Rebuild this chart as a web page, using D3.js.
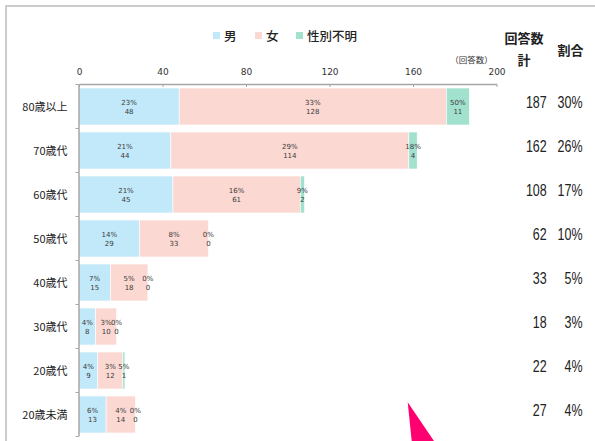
<!DOCTYPE html>
<html>
<head>
<meta charset="utf-8">
<script src="https://d3js.org/d3.v7.min.js"></script>
<style>
  body { margin: 0; background: #fff; }
  svg { display: block; }
  .jp { font-family: "Noto Sans CJK JP", sans-serif; }
</style>
</head>
<body>
<svg id="chart" width="595" height="441"></svg>
<script>
// age groups, top to bottom
const categories = ["80歳以上", "70歳代", "60歳代", "50歳代", "40歳代", "30歳代", "20歳代", "20歳未満"];
const series = ["男", "女", "性別不明"];
const maleCounts    = [48, 44, 45, 29, 15, 8, 9, 13];
const femaleCounts  = [128, 114, 61, 33, 18, 10, 12, 14];
const unknownCounts = [11, 4, 2, 0, 0, 0, 1, 0];
const malePct    = ["23%", "21%", "21%", "14%", "7%", "4%", "4%", "6%"];
const femalePct  = ["33%", "29%", "16%", "8%", "5%", "3%", "3%", "4%"];
const unknownPct = ["50%", "18%", "9%", "0%", "0%", "0%", "5%", "0%"];
const totals = [187, 162, 108, 62, 33, 18, 22, 27];
const shares = ["30%", "26%", "17%", "10%", "5%", "3%", "4%", "4%"];
const xTicks = [0, 40, 80, 120, 160, 200];
const colors = ["#c2e9f9", "#fbd8d2", "#a2e1ce"];

const svg = d3.select("#chart");

// outer frame (runs off the right and bottom)
svg.append("path")
  .attr("d", "M6,441 V6 H595")
  .attr("fill", "none")
  .attr("stroke", "#cbcbcb")
  .attr("stroke-width", 2);

const x = d3.scaleLinear().domain([0, 200]).range([79, 496.5]);
const y = d3.scaleBand().domain(categories).range([84, 436]).paddingInner(0.16).paddingOuter(0.08);
const yEdge = d3.scaleLinear().domain([0, categories.length]).range([84, 436]);

// stack the three series
const rows = categories.map((c, i) => ({
  cat: c,
  vals: [maleCounts[i], femaleCounts[i], unknownCounts[i]],
  pcts: [malePct[i], femalePct[i], unknownPct[i]]
}));

const segs = [];
rows.forEach(r => {
  let acc = 0;
  r.vals.forEach((v, k) => {
    segs.push({ cat: r.cat, k: k, x0: acc, x1: acc + v, v: v, pct: r.pcts[k] });
    acc += v;
  });
});

svg.append("g").selectAll("rect")
  .data(segs.filter(d => d.v > 0))
  .enter().append("rect")
  .attr("x", d => x(d.x0))
  .attr("y", d => y(d.cat) + 0.5)
  .attr("width", d => x(d.x1) - x(d.x0))
  .attr("height", y.bandwidth())
  .attr("fill", d => colors[d.k])
  .attr("stroke", "#fff")
  .attr("stroke-width", 0.6);

// data labels: percent on top, count below
const lbl = svg.append("g")
  .attr("font-family", "DejaVu Sans, sans-serif")
  .attr("font-size", "7px")
  .attr("fill", "#3a3a3a")
  .attr("text-anchor", "middle");

segs.forEach(d => {
  const cx = x((d.x0 + d.x1) / 2);
  const cy = y(d.cat) + y.bandwidth() / 2 + 0.5;
  lbl.append("text").attr("x", cx).attr("y", cy - 1.5).text(d.pct);
  lbl.append("text").attr("x", cx).attr("y", cy + 7.8).text(d.v);
});

// top axis, ticks pointing down
const xAxis = svg.append("g")
  .attr("transform", "translate(0,84)")
  .call(d3.axisTop(x).tickValues(xTicks).tickSize(-3).tickPadding(9).tickSizeOuter(0));
xAxis.select(".domain").attr("stroke", "#a6a6a6").attr("stroke-width", 1.5);
xAxis.selectAll(".tick line").attr("stroke", "#a6a6a6");
xAxis.selectAll(".tick text")
  .attr("font-family", "DejaVu Sans, sans-serif")
  .attr("font-size", "9px")
  .attr("fill", "#333");

// left axis with ticks between categories
const yAxis = svg.append("g")
  .attr("transform", "translate(78.5,0)")
  .call(d3.axisLeft(yEdge).tickValues(d3.range(categories.length + 1)).tickSize(3).tickFormat("").tickSizeOuter(0));
yAxis.select(".domain").attr("stroke", "#a6a6a6").attr("stroke-width", 1.5);
yAxis.selectAll(".tick line").attr("stroke", "#a6a6a6");

// category labels
svg.append("g").selectAll("text")
  .data(categories)
  .enter().append("text")
  .attr("class", "jp")
  .attr("x", 67.5)
  .attr("y", d => y(d) + y.bandwidth() / 2 + 4.5)
  .attr("text-anchor", "end")
  .attr("font-size", "11px")
  .attr("fill", "#222")
  .text(d => d);

// legend
const legendX = [213, 255, 296];
series.forEach((s, i) => {
  svg.append("rect")
    .attr("x", legendX[i]).attr("y", 32)
    .attr("width", 7).attr("height", 7)
    .attr("fill", colors[i]);
  svg.append("text")
    .attr("class", "jp")
    .attr("x", legendX[i] + 11).attr("y", 40.5)
    .attr("font-size", "12.5px")
    .attr("font-weight", "500")
    .attr("fill", "#222")
    .text(s);
});

// unit note and column headers
svg.append("text").attr("class", "jp")
  .attr("x", 471.5).attr("y", 63)
  .attr("text-anchor", "middle").attr("font-size", "8.5px").attr("fill", "#333")
  .text("（回答数）");
svg.append("text").attr("class", "jp")
  .attr("x", 524).attr("y", 43)
  .attr("text-anchor", "middle").attr("font-size", "13px").attr("font-weight", "bold").attr("fill", "#222")
  .text("回答数");
svg.append("text").attr("class", "jp")
  .attr("x", 524).attr("y", 65)
  .attr("text-anchor", "middle").attr("font-size", "13px").attr("font-weight", "bold").attr("fill", "#222")
  .text("計");
svg.append("text").attr("class", "jp")
  .attr("x", 570.5).attr("y", 54.5)
  .attr("text-anchor", "middle").attr("font-size", "13px").attr("font-weight", "bold").attr("fill", "#222")
  .text("割合");

// totals and shares, narrow digits
const right = svg.append("g")
  .attr("font-family", "Liberation Sans, sans-serif")
  .attr("font-size", "16px")
  .attr("fill", "#222")
  .attr("text-anchor", "end");
categories.forEach((c, i) => {
  const by = y(c) + y.bandwidth() / 2 + 2;
  right.append("text")
    .attr("transform", `translate(546.7,${by}) scale(0.78,1)`)
    .text(totals[i]);
  right.append("text")
    .attr("transform", `translate(582.5,${by}) scale(0.78,1)`)
    .text(shares[i]);
});

// pink arrow tip poking in from the bottom
svg.append("path")
  .attr("d", "M407.7,402.3 L434,441 L411.7,441 Z")
  .attr("fill", "#ff0070");
</script>
</body>
</html>
